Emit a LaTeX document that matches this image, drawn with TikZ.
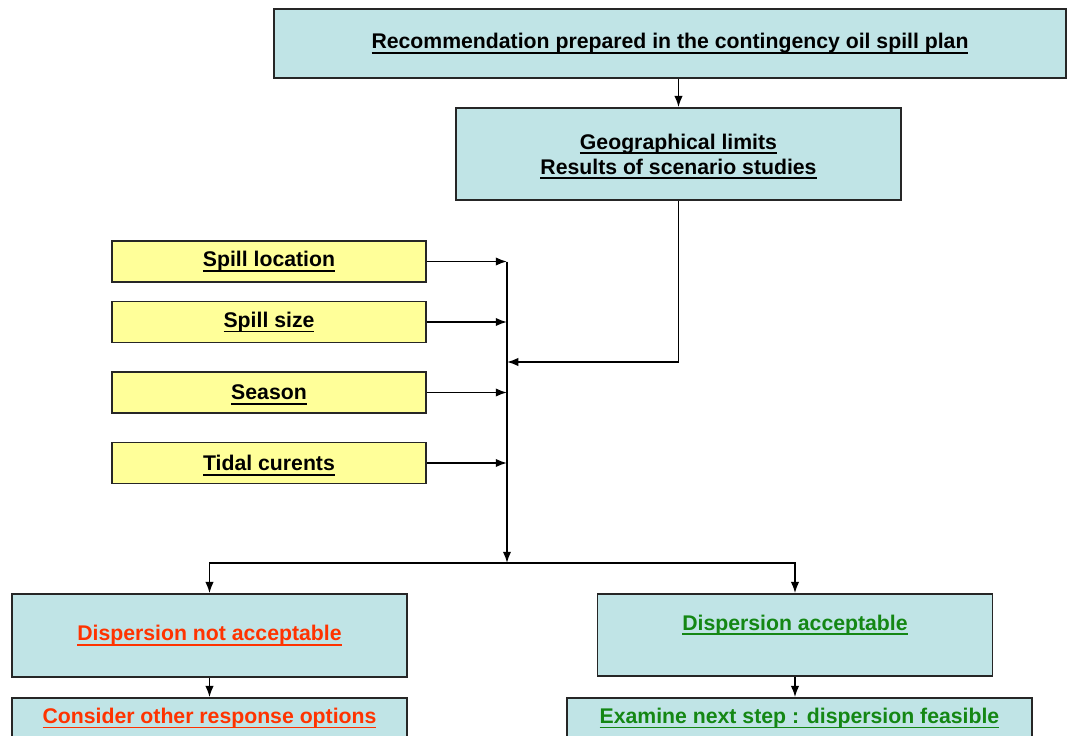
\documentclass[tikz,border=0pt]{standalone}
\usepackage{fontspec}
\setmainfont{Liberation Sans}
\usetikzlibrary{calc,arrows.meta}

\definecolor{boxcyan}{RGB}{192,228,230}
\definecolor{boxyellow}{RGB}{255,255,153}
\definecolor{txtred}{RGB}{255,51,0}
\definecolor{txtgreen}{RGB}{20,135,20}

\newsavebox\ulbox
\newcommand\ulx[1]{\sbox\ulbox{#1}\rlap{\smash{\rule[-3.5pt]{\wd\ulbox}{1.2pt}}}\usebox\ulbox}

\tikzset{
	box/.style={draw=black!85, line width=1.2pt, fill=boxcyan, inner sep=0pt, align=center,
		font=\fontsize{15.1}{17.8}\selectfont\bfseries},
	factor/.style={box, fill=boxyellow, minimum width=314*0.025cm, minimum height=41*0.025cm},
	arr/.style={line width=1.2pt, -{Latex[length=8pt,width=6pt]}}
}

\begin{document}
\begin{tikzpicture}[x=0.025cm, y=-0.025cm]
			%%%%% START %%%%%
			\useasboundingbox (0, 0) rectangle (1067, 736);
			
			\node[box, minimum width=792*0.025cm, minimum height=69*0.025cm] (plan) at (670, 43.5) {\ulx{Recommendation prepared in the contingency oil spill plan}};
			\node[box, minimum width=445*0.025cm, minimum height=92*0.025cm] (limits) at (678.5, 154) {\ulx{Geographical limits}\\\ulx{Results of scenario studies}};
			
			\node[factor] (location) at (269, 261.5) {\ulx{Spill location}};
			\node[factor] (size) at (269, 322) {\ulx{Spill size}};
			\node[factor] (season) at (269, 392.5) {\ulx{Season}};
			\node[factor] (tidal) at (269, 463) {\ulx{Tidal curents}};
			
			\coordinate (bus) at (507, 261.5);
			\coordinate (merge) at (507, 362);
			\coordinate (split) at (507, 563);
			
			\node[box, minimum width=395*0.025cm, minimum height=83*0.025cm, text=txtred] (notok) at (209.5, 635.5) {\ulx{Dispersion not acceptable}};
			\node[box, minimum width=395*0.025cm, minimum height=82*0.025cm, text=txtgreen] (ok) at (795, 635) {\ulx{Dispersion acceptable}\\~};
			\node[box, minimum width=395*0.025cm, minimum height=40*0.025cm, text=txtred] (other) at (209.5, 718) {\ulx{Consider other response options}};
			\node[box, minimum width=465*0.025cm, minimum height=40*0.025cm, text=txtgreen] (next) at (799.5, 718) {\ulx{Examine next step : dispersion feasible}};
			
			\draw[arr] (limits.north |- plan.south) -- (limits.north);
			\draw[arr] (limits.south) |- (merge);
			
			\foreach \f in {location, size, season, tidal}
				\draw[arr] (\f.east) -- (\f.east -| bus);
			
			\draw[arr] (bus) -- (split);
			\draw[arr] (split) -| (notok.north);
			\draw[arr] (split) -| (ok.north);
			
			\draw[arr] (notok.south) -- (other.north);
			\draw[arr] (ok.south) -- (next.north -| ok.south);
			%%%%% END %%%%%
\end{tikzpicture}
\end{document}
